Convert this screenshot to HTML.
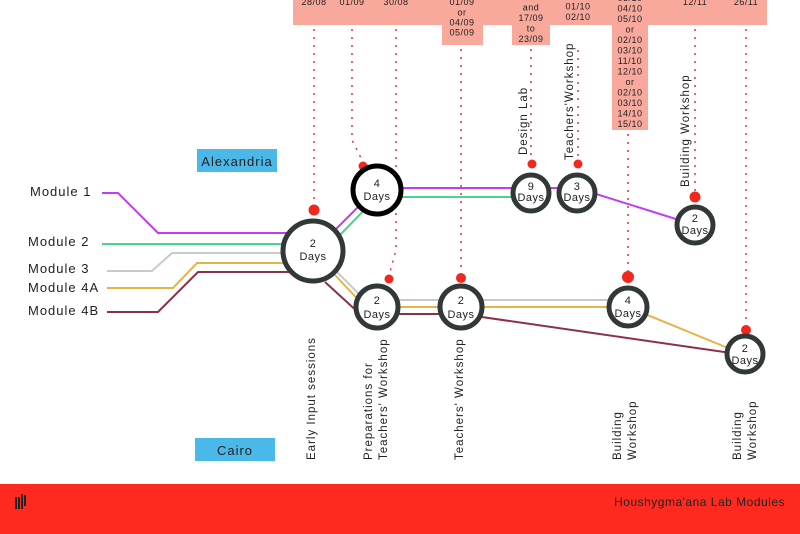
<!DOCTYPE html>
<html><head><meta charset="utf-8"><style>
html,body{margin:0;padding:0;background:#fff;width:800px;height:534px;overflow:hidden}
svg{display:block}
text{font-family:"Liberation Sans",sans-serif;fill:#222}
.d{font-size:9px;text-anchor:middle;letter-spacing:0.5px}
.v{font-size:11.5px;letter-spacing:1px}
.m{font-size:13px;letter-spacing:1px}
.c{font-size:11px;text-anchor:middle;letter-spacing:0.5px}
.dot{stroke:#e8303a;stroke-width:1.5;stroke-dasharray:2,6;fill:none}
</style></head><body>
<svg width="800" height="534" viewBox="0 0 800 534">
<!-- pink date band -->
<g fill="#f9a89c">
<rect x="293" y="0" width="474" height="25"/>
<rect x="442" y="0" width="41" height="45"/>
<rect x="512" y="0" width="38" height="45"/>
<rect x="612" y="0" width="36" height="130"/>
</g>
<g class="d">
<text x="314" y="5">28/08</text>
<text x="352" y="5">01/09</text>
<text x="396" y="5">30/08</text>
<text x="462" y="5">01/09</text><text x="462" y="15.5">or</text><text x="462" y="25.5">04/09</text><text x="462" y="35.5">05/09</text>
<text x="531" y="0">09/09</text><text x="531" y="10.5">and</text><text x="531" y="21">17/09</text><text x="531" y="31.5">to</text><text x="531" y="42">23/09</text>
<text x="578" y="-1">30/09</text><text x="578" y="9.5">01/10</text><text x="578" y="20">02/10</text>
<text x="630" y="1">03/10</text><text x="630" y="11.5">04/10</text><text x="630" y="22">05/10</text><text x="630" y="32.5">or</text><text x="630" y="43">02/10</text><text x="630" y="53.5">03/10</text><text x="630" y="64">11/10</text><text x="630" y="74.5">12/10</text><text x="630" y="85">or</text><text x="630" y="95.5">02/10</text><text x="630" y="106">03/10</text><text x="630" y="116.5">14/10</text><text x="630" y="127">15/10</text>
<text x="695" y="5">12/11</text>
<text x="746" y="5">26/11</text>
</g>
<!-- dotted leaders -->
<g class="dot">
<line x1="314" y1="29" x2="314" y2="205"/>
<polyline points="352,29 352,140 362,160"/>
<polyline points="396,29 396,250 390,272"/>
<line x1="461" y1="49" x2="461" y2="272"/>
<line x1="531" y1="49" x2="531" y2="158"/>
<line x1="578" y1="50" x2="578" y2="158"/>
<line x1="628" y1="134" x2="628" y2="272"/>
<line x1="695" y1="29" x2="695" y2="192"/>
<line x1="746" y1="29" x2="746" y2="325"/>
</g>
<g fill="#f0281e">
<circle cx="314" cy="210" r="5.5"/><circle cx="363" cy="166" r="4.5"/><circle cx="389" cy="279" r="4.5"/>
<circle cx="461" cy="278" r="5"/><circle cx="532" cy="164" r="4.5"/><circle cx="578" cy="164" r="4.5"/>
<circle cx="628" cy="277" r="6"/><circle cx="695" cy="197" r="5.5"/><circle cx="746" cy="330" r="5"/>
</g>
<!-- module lines -->
<g fill="none" stroke-width="2">
<polyline stroke="#c23cf0" points="102,193 118,193 158,233 290,233"/>
<polyline stroke="#c23cf0" points="335,230 377,188 577,188 695,225"/>
<polyline stroke="#48d68a" points="102,244 290,244"/>
<polyline stroke="#48d68a" points="335,240 377,197 531,197"/>
<polyline stroke="#c7cbc7" points="107,271 152,271 172,253 290,253"/>
<polyline stroke="#c7cbc7" points="335,270 365,300 628,300"/>
<polyline stroke="#e6b445" points="107,288 173,288 197,263 290,263"/>
<polyline stroke="#e6b445" points="335,275 365,307 628,307 745,355"/>
<polyline stroke="#8c3048" points="107,312 158,312 198,272 290,272"/>
<polyline stroke="#8c3048" points="325,282 360,314 461,314 745,355"/>
</g>
<!-- circles -->
<g fill="#fff" stroke="#323838" stroke-width="5">
<circle cx="313" cy="251" r="30"/>
<circle cx="377" cy="307" r="21"/>
<circle cx="461" cy="307" r="21"/>
<circle cx="628" cy="307" r="19"/>
<circle cx="745" cy="354" r="18"/>
<circle cx="531" cy="193" r="18"/>
<circle cx="577" cy="193" r="18"/>
<circle cx="695" cy="225" r="18"/>
<circle cx="377" cy="190" r="24" stroke="#000"/>
</g>
<g class="c">
<text x="313" y="247">2</text><text x="313" y="260">Days</text>
<text x="377" y="187">4</text><text x="377" y="200">Days</text>
<text x="531" y="190">9</text><text x="531" y="201">Days</text>
<text x="577" y="190">3</text><text x="577" y="201">Days</text>
<text x="695" y="222">2</text><text x="695" y="234">Days</text>
<text x="377" y="304">2</text><text x="377" y="318">Days</text>
<text x="461" y="304">2</text><text x="461" y="318">Days</text>
<text x="628" y="304">4</text><text x="628" y="317">Days</text>
<text x="745" y="352">2</text><text x="745" y="364">Days</text>
</g>
<!-- module labels -->
<g class="m">
<text x="30" y="196">Module 1</text>
<text x="28" y="246">Module 2</text>
<text x="28" y="273">Module 3</text>
<text x="28" y="292">Module 4A</text>
<text x="28" y="315">Module 4B</text>
</g>
<rect x="197" y="149" width="80" height="23" fill="#4ab8e8"/>
<text x="237" y="166" class="m" text-anchor="middle">Alexandria</text>
<rect x="195" y="438" width="80" height="23" fill="#4ab8e8"/>
<text x="235" y="455" class="m" text-anchor="middle">Cairo</text>
<!-- vertical labels -->
<g class="v">
<text transform="translate(315,460) rotate(-90)">Early Input sessions</text>
<text transform="translate(372,460) rotate(-90)">Preparations for</text>
<text transform="translate(387,460) rotate(-90)">Teachers' Workshop</text>
<text transform="translate(463,460) rotate(-90)">Teachers' Workshop</text>
<text transform="translate(621,460) rotate(-90)">Building</text>
<text transform="translate(636,460) rotate(-90)">Workshop</text>
<text transform="translate(741,460) rotate(-90)">Building</text>
<text transform="translate(756,460) rotate(-90)">Workshop</text>
<text transform="translate(527,155) rotate(-90)">Design Lab</text>
<text transform="translate(573,160) rotate(-90)">Teachers'Workshop</text>
<text transform="translate(689,187) rotate(-90)">Building Workshop</text>
</g>
<!-- footer -->
<rect x="0" y="484" width="800" height="50" fill="#ff2a1f"/>
<text x="785" y="506" font-size="12" text-anchor="end" style="letter-spacing:0.5px">Houshygma'ana Lab Modules</text>
<g fill="#222"><rect x="15" y="497" width="2" height="12"/><rect x="18" y="497" width="2" height="12"/><rect x="21" y="494" width="2" height="15"/><rect x="24" y="495" width="2" height="11"/></g>
</svg>
</body></html>
